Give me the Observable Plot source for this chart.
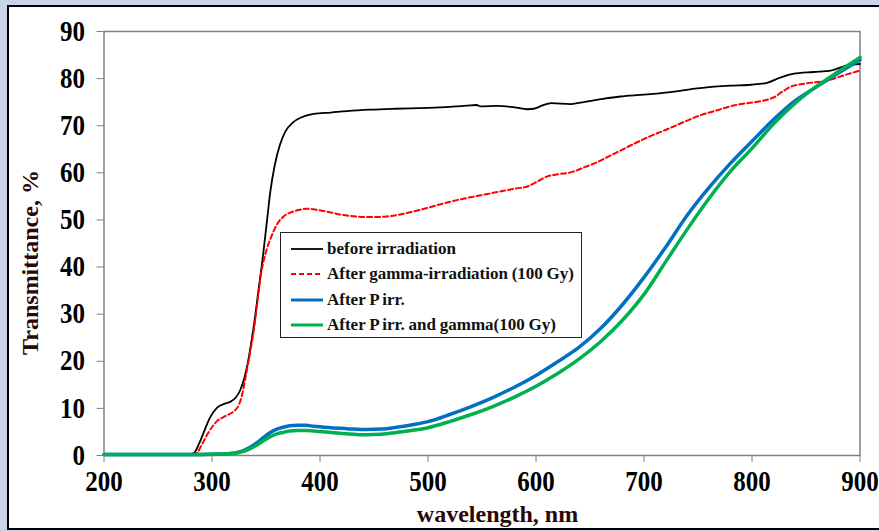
<!DOCTYPE html>
<html>
<head>
<meta charset="utf-8">
<script src="https://cdn.jsdelivr.net/npm/d3@7"></script>
<script src="https://cdn.jsdelivr.net/npm/@observablehq/plot@0.6"></script>
<style>
  html, body { margin: 0; padding: 0; background: #c9d5e6; }
  #wrap { position: relative; width: 879px; height: 531px; overflow: hidden; background: #c9d5e6; }
  #panel { position: absolute; left: 7px; top: 5px; width: 890px; height: 521px; border: 2px solid #000; background: #fff; }
  #chart { position: absolute; left: 0; top: 0; }
  #legend { position: absolute; left: 280px; top: 232px; width: 300px; height: 104px; border: 1.5px solid #222; background: #fff;
            font-family: "Liberation Serif", serif; font-weight: bold; font-size: 17px; color: #111; }
  .row { position: absolute; left: 0; height: 20px; line-height: 20px; white-space: nowrap; }
  .row svg { position: absolute; left: 10px; top: 7px; }
  .row span { position: absolute; left: 46px; top: 0; word-spacing: -0.5px; }
</style>
</head>
<body>
<div id="wrap">
  <div id="panel"></div>
  <div id="chart"></div>
  <div id="legend"></div>
</div>
<script>
// ---- data ----
const xTicks = [200, 300, 400, 500, 600, 700, 800, 900];
const yTicks = [0, 10, 20, 30, 40, 50, 60, 70, 80, 90];
const seriesNames = ["before irradiation", "After gamma-irradiation (100 Gy)", "After P irr.", "After P irr. and gamma(100 Gy)"];

const beforeWl = [200,250,278,283,288,292,298,305,312,317,322,326,330,333,336,339,343,347,351,354,358,363,368,375,383,394,410,425,447,470,500,520,540,545,549,564,580,592,598,606,614,632,641,662,678,700,722,752,780,799,814,826,838,857,873,888,900];
const beforeT  = [0.3,0.3,0.3,0.5,2.5,4.7,8,10.2,11,11.4,12.3,13.8,16.5,19.5,23.5,28,35,42,50,56,61.5,66,68.8,70.7,71.8,72.5,72.8,73.1,73.4,73.6,73.8,74.0,74.3,74.4,74.1,74.2,73.9,73.5,73.6,74.3,74.8,74.6,74.9,75.7,76.2,76.6,77.1,78,78.5,78.7,79.1,80.2,81,81.4,81.7,82.8,83.1];

const gammaWl = [200,250,280,286,291,296,300,305,311,317,321,325,328,331,335,339,342,345,348,351,355,360,366,373,380,388,398,410,420,431,447,460,477,492,508,523,539,555,570,582,592,600,610,620,632,645,657,670,678,691,706,722,737,752,768,783,802,812,820,828,836,851,870,885,900];
const gammaT  = [0.2,0.2,0.2,0.6,2.5,4.6,6,7.4,8.2,8.9,9.5,10.8,13,16.5,21.5,27,32.5,38,41.5,44,46.5,49,50.7,51.6,52.1,52.4,52.1,51.6,51.1,50.8,50.6,50.7,51.3,52.1,53.1,54,54.8,55.5,56.2,56.7,57.1,58,59.2,59.7,60.1,61.2,62.3,63.8,64.7,66.2,67.8,69.3,70.8,72.2,73.3,74.3,75,75.4,76,77.2,78.3,79,79.6,80.7,81.7];

const pIrrWl = [200,250,290,310,320,326,334,342,348,354,360,366,372,379,387,394,410,425,443,457,471,487,500,520,540,560,580,600,620,640,660,680,700,720,740,760,780,800,820,840,860,880,900];
const pIrrT  = [0.2,0.2,0.2,0.3,0.5,0.8,1.6,2.8,3.9,4.9,5.6,6,6.3,6.4,6.4,6.2,5.9,5.7,5.5,5.6,6,6.6,7.2,8.7,10.4,12.3,14.5,17.0,19.9,23.0,27.0,32.0,37.8,44.2,51.0,56.8,62.0,66.7,71.3,75.3,78.3,81.2,84];

const pGammaWl = [200,250,290,310,320,326,334,342,348,354,360,366,372,379,387,394,410,425,443,457,471,487,500,520,540,560,580,600,620,640,660,680,700,720,740,760,780,800,820,840,860,880,900];
const pGammaT  = [0.2,0.2,0.2,0.3,0.5,0.7,1.3,2.3,3.2,4,4.6,4.9,5.2,5.3,5.3,5.2,4.9,4.6,4.4,4.5,4.9,5.4,5.9,7.2,8.7,10.4,12.4,14.7,17.4,20.5,24.2,28.7,34.2,41.1,48.0,54.5,60.3,65.2,70.4,74.8,78.4,81.5,84.5];

const seriesColors = ["#000000", "#ff0000", "#0070c0", "#00b050"];
const seriesWidths = [1.8, 2, 3.5, 3.5];
const seriesDash = [null, "5,3", null, null];

// ---- build table ----
function rows(name, wl, t) { return wl.map((w, i) => ({series: name, wl: w, t: t[i]})); }
const data = [
  rows(seriesNames[0], beforeWl, beforeT),
  rows(seriesNames[1], gammaWl, gammaT),
  rows(seriesNames[2], pIrrWl, pIrrT),
  rows(seriesNames[3], pGammaWl, pGammaT)
];

const chart = Plot.plot({
  width: 879,
  height: 531,
  marginLeft: 103.5,
  marginRight: 19.5,
  marginTop: 31,
  marginBottom: 76,
  style: {background: "transparent", fontFamily: "Liberation Serif, serif", fontWeight: "bold", fontSize: "25px", color: "#000", overflow: "visible"},
  x: {domain: [200, 900], ticks: xTicks, tickSize: 7, tickPadding: 8, label: null, tickFormat: d => String(d)},
  y: {domain: [0, 90], ticks: yTicks, tickSize: 7, tickPadding: 12, label: null, tickFormat: d => String(d)},
  marks: [
    Plot.frame({stroke: "#808080", strokeWidth: 1.5}),
    ...data.map((d, i) => Plot.line(d, {
      x: "wl", y: "t", curve: "monotone-x",
      stroke: seriesColors[i], strokeWidth: seriesWidths[i],
      strokeDasharray: seriesDash[i] || undefined
    })),
    Plot.text(["Transmittance, %"], {text: d => d, frameAnchor: "left", textAnchor: "middle", lineAnchor: "middle", dx: -74, dy: 19, rotate: -90, fontSize: 24, fontWeight: "bold", fill: "#2a0808"}),
    Plot.text(["wavelength, nm"], {text: d => d, frameAnchor: "bottom", textAnchor: "middle", lineAnchor: "middle", dx: 15.5, dy: 59, fontSize: 24, fontWeight: "bold", fill: "#2a0808"})
  ]
});
// grey tick marks
chart.querySelectorAll('g[aria-label$="tick"]').forEach(g => g.setAttribute("stroke", "#808080"));
chart.querySelectorAll('g.tick line').forEach(l => l.setAttribute("stroke", "#808080"));
// slightly taller tick label glyphs, as in the reference
chart.querySelectorAll('g[aria-label$="tick label"] text').forEach(t => {
  const tr = t.getAttribute("transform");
  if (tr) t.setAttribute("transform", tr + " scale(1,1.15)");
});
document.getElementById("chart").appendChild(chart);

// ---- legend ----
const legend = document.getElementById("legend");
const rowCenters = [15.7, 41.2, 66.7, 92.2];
seriesNames.forEach((name, i) => {
  const row = document.createElement("div");
  row.className = "row";
  row.style.top = (rowCenters[i] - 10) + "px";
  row.innerHTML = `<svg width="32" height="6"><line x1="0" x2="32" y1="3" y2="3" stroke="${seriesColors[i]}" stroke-width="${Math.min(seriesWidths[i], 3)}" ${seriesDash[i] ? `stroke-dasharray="${seriesDash[i]}"` : ""}/></svg><span>${name}</span>`;
  legend.appendChild(row);
});
</script>
</body>
</html>
